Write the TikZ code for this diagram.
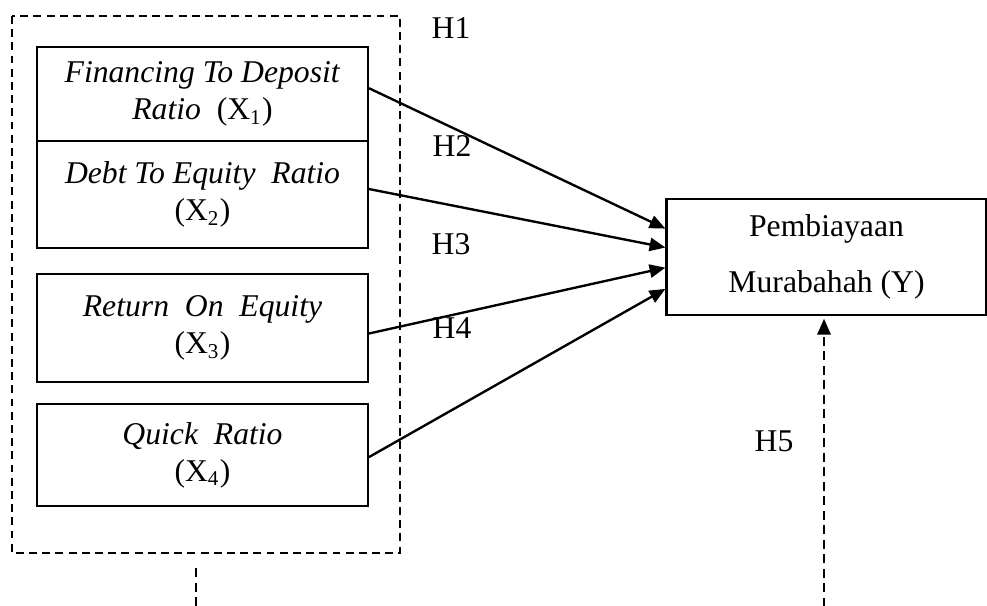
\documentclass[tikz,border=0pt]{standalone}
\usepackage{fontspec}
\setmainfont{Liberation Serif}
\usepackage{tikz}
\usetikzlibrary{arrows.meta,positioning,calc}
\tikzset{
  varbox/.style={draw, line width=0.8pt, align=center, inner sep=0pt,
                 minimum width=125.4pt, font=\fontsize{12}{14}\selectfont},
  ybox/.style  ={draw, line width=0.8pt, align=center, inner sep=0pt,
                 minimum width=121.3pt, minimum height=44pt,
                 font=\fontsize{12}{21}\selectfont},
  grpline/.style={draw, line width=0.45pt, dash pattern=on 3pt off 2pt},
  hlabel/.style={inner sep=0pt, font=\fontsize{12}{14}\selectfont},
  arr/.style   ={-{Triangle[length=6pt,width=5pt]}, line width=0.9pt},
  darr/.style  ={-{Triangle[length=6pt,width=5pt]}, line width=0.9pt,
                 dash pattern=on 3.5pt off 2pt},
}
\begin{document}
\begin{tikzpicture}[x=0.379pt,y=-0.379pt]
  \useasboundingbox (0,0) rectangle (987,606);
  %% independent variables
  \draw[grpline] (12,16) rectangle (400,553);
  \node[varbox, minimum height=35.6pt] (fdr) at (202.5,94)
    {\textit{Financing To Deposit}\\\textit{Ratio}\ \ (X\textsubscript{1})};
  \node[varbox, minimum height=40.6pt] (der) at (202.5,194.5)
    {\textit{Debt To Equity\ \ Ratio}\\(X\textsubscript{2})};
  \node[varbox, minimum height=40.9pt] (roe) at (202.5,328)
    {\textit{Return\ \ On\ \ Equity}\\(X\textsubscript{3})};
  \node[varbox, minimum height=38.7pt] (qr) at (202.5,455)
    {\textit{Quick\ \ Ratio}\\(X\textsubscript{4})};
  %% dependent variable
  \node[ybox] (pm) at (826.5,257) {Pembiayaan\\Murabahah (Y)};
  %% hypotheses
  \node[hlabel] (h1) at (451,28)  {H1};
  \node[hlabel] (h2) at (452,146) {H2};
  \node[hlabel] (h3) at (451,244) {H3};
  \node[hlabel] (h4) at (452,328) {H4};
  \node[hlabel] (h5) at (774,441) {H5};
  \coordinate (gb) at (196,568);
  \coordinate (ge) at (196,607);
  \coordinate (pb) at (824,607);
  \draw[arr]($(fdr.north east)!0.44!(fdr.south east)$)--($(pm.north west)!0.26!(pm.south west)$);
  \draw[arr]($(der.north east)!0.45!(der.south east)$)--($(pm.north west)!0.42!(pm.south west)$);
  \draw[arr]($(roe.north east)!0.55!(roe.south east)$)--($(pm.north west)!0.59!(pm.south west)$);
  \draw[arr]($(qr.north east)!0.52!(qr.south east)$)--($(pm.north west)!0.77!(pm.south west)$);
  \draw[darr](pb)--([yshift=-1pt]pb |- pm.south);
  \draw[line width=0.9pt, dash pattern=on 3.5pt off 2pt](gb)--(ge);
\end{tikzpicture}
\end{document}
